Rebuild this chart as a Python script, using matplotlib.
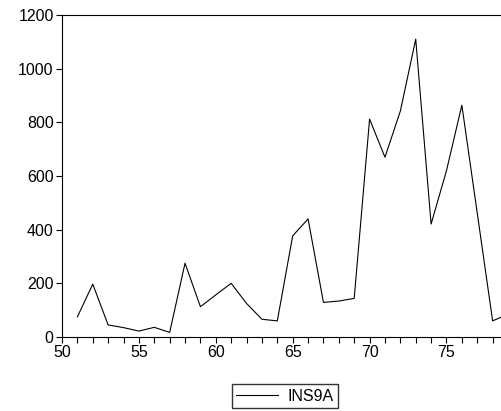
import matplotlib
matplotlib.use('Agg')
import matplotlib.pyplot as plt
from matplotlib.ticker import MultipleLocator

lata = list(range(51, 80))
ins9a = [75, 197, 45, 35, 22, 36, 17, 275, 113, 157, 200, 125, 66, 60,
         377, 440, 129, 134, 144, 812, 670, 842, 1110, 421, 620, 864,
         462, 60, 85]

plt.rcParams['font.family'] = ['Liberation Sans', 'DejaVu Sans']

fig = plt.figure(figsize=(5.01, 4.11), dpi=100)
# oś wychodzi trochę poza prawą krawędź, jak w oryginale
ax = fig.add_axes([62 / 501, 1 - 337 / 411, 446 / 501, 322 / 411])
linia, = ax.plot(lata, ins9a, color='black', linewidth=0.8, label='INS9A')

ax.set_xlim(50, 79)
ax.set_ylim(0, 1200)
ax.xaxis.set_major_locator(MultipleLocator(5))
ax.xaxis.set_minor_locator(MultipleLocator(1))
ax.yaxis.set_major_locator(MultipleLocator(200))
ax.tick_params(axis='both', which='both', direction='out', length=4,
               width=0.8, labelsize=11.5, colors='black')
ax.tick_params(axis='x', which='major', pad=2)
ax.tick_params(axis='y', which='major', pad=2)
ax.spines['right'].set_visible(False)
for s in ('left', 'top', 'bottom'):
    ax.spines[s].set_linewidth(0.8)

fig.legend(handles=[linia], loc='center', bbox_to_anchor=(285 / 501, 1 - 396 / 411),
           frameon=True, fancybox=False, edgecolor='black', fontsize=11.5,
           handlelength=2.6, handletextpad=0.6, borderpad=0.3)

fig.savefig('out.png', dpi=100)
